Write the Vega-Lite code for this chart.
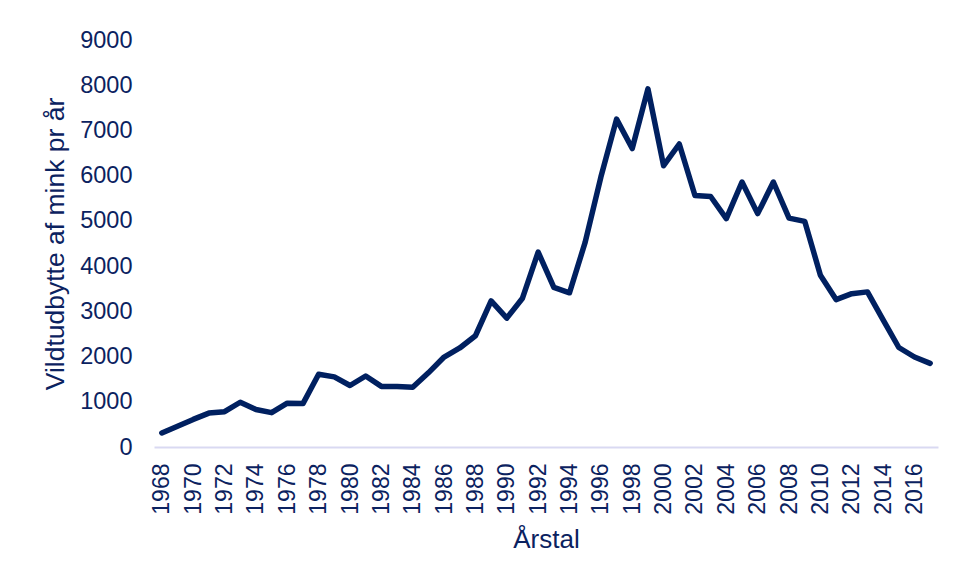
{
  "$schema": "https://vega.github.io/schema/vega-lite/v6.json",
  "width": 784,
  "height": 407,
  "autosize": "none",
  "padding": {"left": 154, "top": 40, "right": 18, "bottom": 131},
  "background": "white",
  "config": {
    "view": {"stroke": null},
    "font": "Liberation Sans",
    "axis": {"labelFont": "Liberation Sans", "titleFont": "Liberation Sans", "labelColor": "#0b2260", "titleColor": "#0b2260", "titleFontWeight": "normal", "grid": false, "ticks": false}
  },
  "data": {
    "values": [
      {"year": 1968, "value": 310},
      {"year": 1969, "value": 460},
      {"year": 1970, "value": 610},
      {"year": 1971, "value": 750},
      {"year": 1972, "value": 780},
      {"year": 1973, "value": 990},
      {"year": 1974, "value": 830},
      {"year": 1975, "value": 760},
      {"year": 1976, "value": 970},
      {"year": 1977, "value": 960},
      {"year": 1978, "value": 1610},
      {"year": 1979, "value": 1550},
      {"year": 1980, "value": 1360},
      {"year": 1981, "value": 1570},
      {"year": 1982, "value": 1340},
      {"year": 1983, "value": 1340},
      {"year": 1984, "value": 1320},
      {"year": 1985, "value": 1640},
      {"year": 1986, "value": 1990},
      {"year": 1987, "value": 2190},
      {"year": 1988, "value": 2460},
      {"year": 1989, "value": 3230},
      {"year": 1990, "value": 2850},
      {"year": 1991, "value": 3290},
      {"year": 1992, "value": 4310},
      {"year": 1993, "value": 3530},
      {"year": 1994, "value": 3410},
      {"year": 1995, "value": 4530},
      {"year": 1996, "value": 5970},
      {"year": 1997, "value": 7250},
      {"year": 1998, "value": 6600},
      {"year": 1999, "value": 7920},
      {"year": 2000, "value": 6220},
      {"year": 2001, "value": 6700},
      {"year": 2002, "value": 5560},
      {"year": 2003, "value": 5540},
      {"year": 2004, "value": 5050},
      {"year": 2005, "value": 5860},
      {"year": 2006, "value": 5160},
      {"year": 2007, "value": 5860},
      {"year": 2008, "value": 5060},
      {"year": 2009, "value": 4990},
      {"year": 2010, "value": 3800},
      {"year": 2011, "value": 3260},
      {"year": 2012, "value": 3390},
      {"year": 2013, "value": 3430},
      {"year": 2014, "value": 2810},
      {"year": 2015, "value": 2200},
      {"year": 2016, "value": 1990},
      {"year": 2017, "value": 1850}
    ]
  },
  "mark": {"type": "line", "color": "#002060", "strokeWidth": 5.5, "strokeCap": "round", "strokeJoin": "round"},
  "encoding": {
    "x": {
      "field": "year",
      "type": "ordinal",
      "scale": {"paddingInner": 0, "paddingOuter": 0},
      "axis": {
        "title": "Årstal",
        "titleFontSize": 26,
        "titlePadding": 12,
        "labelFontSize": 23,
        "labelAngle": -90,
        "labelPadding": 16,
        "values": [1968,1970,1972,1974,1976,1978,1980,1982,1984,1986,1988,1990,1992,1994,1996,1998,2000,2002,2004,2006,2008,2010,2012,2014,2016],
        "domainColor": "#d9d9f2",
        "domainWidth": 2
      }
    },
    "y": {
      "field": "value",
      "type": "quantitative",
      "scale": {"domain": [0, 9000], "nice": false},
      "axis": {
        "title": "Vildtudbytte af mink pr år",
        "titleFontSize": 26.5,
        "titlePadding": 10,
        "labelFontSize": 23.5,
        "labelPadding": 22,
        "format": "d",
        "values": [0,1000,2000,3000,4000,5000,6000,7000,8000,9000],
        "domain": false
      }
    }
  }
}
